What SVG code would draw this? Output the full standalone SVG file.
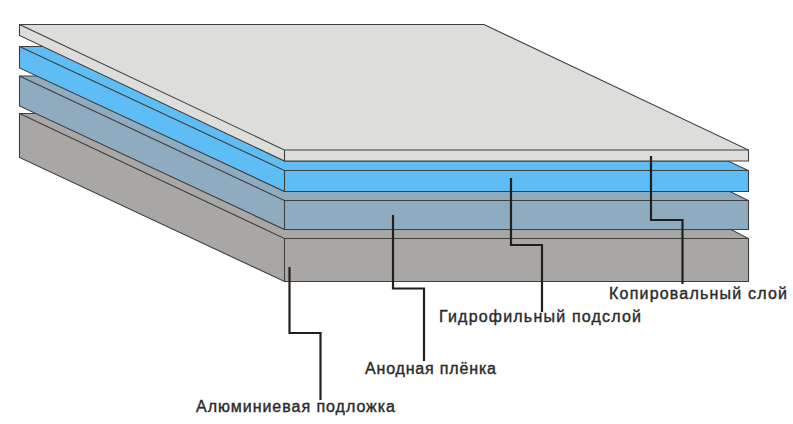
<svg xmlns="http://www.w3.org/2000/svg" width="793" height="424" viewBox="0 0 793 424">
<style>
.e{stroke:#3f3f3d;stroke-width:1.1;stroke-linejoin:miter}
.lead{fill:none;stroke:#231f1c;stroke-width:2.2}
.t{font-family:"Liberation Sans",Arial,sans-serif;font-size:16px;fill:#2a2a2a;stroke:#2a2a2a;stroke-width:.4}
</style>
<rect width="793" height="424" fill="#fff"/>
<g id="layer-substrate" fill="#a9a7a5">
<path class="e" d="M19.5 113.500H44L284.500 229.500H731L748.500 238.500V281.500H284.500L19.500 157.500Z"/>
<path class="e" fill="none" d="M19.500 113.500L284.500 238.500V281.500M284.500 238.500H748.500"/>
</g>
<g id="layer-anode" fill="#8fabc0">
<path class="e" d="M19.500 76H44L284.500 191.500H730L748.500 200.500V229.500H284.500L19.500 106Z"/>
<path class="e" fill="none" d="M19.500 76L284.500 200.500V229.500M284.500 200.500H748.500"/>
</g>
<g id="layer-hydrophilic" fill="#5dbdf4">
<path class="e" d="M19.500 46.500H44L284.500 161H728L748.500 170.500V191.500H284.500L19.500 68Z"/>
<path class="e" fill="none" d="M19.500 46.500L284.500 170.500V191.500M284.500 170.500H748.500"/>
</g>
<g id="layer-copy" fill="#dddddb">
<path class="e" d="M19.500 24.500H484L748.500 150V161H284.500L19.500 35.500Z"/>
<path class="e" fill="none" d="M19.500 24.500L284.500 150V161M284.500 150H748.500"/>
</g>
<g id="connectors">
<path class="lead" d="M651 156V220H682.500V284"/>
<path class="lead" d="M511 178V245H542V312"/>
<path class="lead" d="M393 215V288.500H424V361"/>
<path class="lead" d="M289.500 267V333H320.500V400"/>
</g>
<g id="label-copy"><text class="t" x="609" y="299" textLength="178" lengthAdjust="spacing">Копировальный слой</text></g>
<g id="label-hydrophilic"><text class="t" x="439" y="322" textLength="202" lengthAdjust="spacing">Гидрофильный подслой</text></g>
<g id="label-anode"><text class="t" x="365" y="374" textLength="131" lengthAdjust="spacing">Анодная плёнка</text></g>
<g id="label-substrate"><text class="t" x="196" y="412" textLength="199" lengthAdjust="spacing">Алюминиевая подложка</text></g>
</svg>
